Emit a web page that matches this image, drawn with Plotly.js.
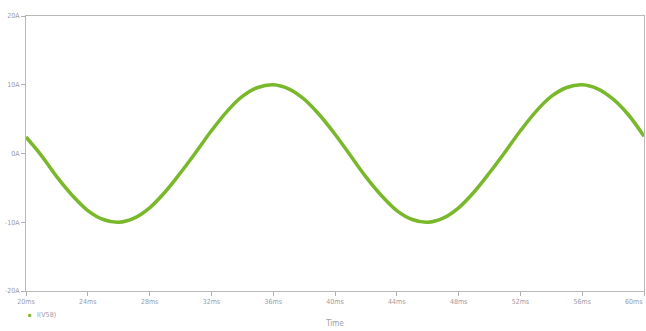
<!DOCTYPE html>
<html>
<head>
<meta charset="utf-8">
<script src="https://cdn.plot.ly/plotly-3.0.1.min.js"></script>
<style>html,body{margin:0;padding:0;background:#fff;}#chart{width:646px;height:331px;}</style>
</head>
<body>
<div id="chart"></div>
<script>
// Time (ms) and current I(V58) (A)
const timeMs = [20,21,22,23,24,25,26,27,28,29,30,31,32,33,34,35,36,37,38,39,40,
                41,42,43,44,45,46,47,48,49,50,51,52,53,54,55,56,57,58,59,60];
const currentA = [2.4,-0.3,-3.4,-6.1,-8.3,-9.6,-10.0,-9.4,-7.9,-5.6,-2.8,
                  0.2,3.3,6.1,8.3,9.6,10.0,9.4,7.9,5.6,2.8,
                  -0.3,-3.4,-6.1,-8.3,-9.6,-10.0,-9.4,-7.9,-5.6,-2.8,
                  0.2,3.3,6.1,8.3,9.6,10.0,9.4,7.9,5.6,2.5];
const xTickVals = [20,24,28,32,36,40,44,48,52,56,60];
const xTickText = ["20ms","24ms","28ms","32ms","36ms","40ms","44ms","48ms","52ms","56ms","60ms"];
const yTickVals = [-20,-10,0,10,20];
const yTickText = ["-20A","-10A","0A","10A","20A"];
const seriesName = "I(V58)";

const green = "#78b82a";
const tickFont = {family: "Liberation Sans Narrow, DejaVu Sans Condensed, sans-serif", size: 7, color: "#9a9aa6"};

// the last label sits against the right edge in the reference: draw it right-aligned as an annotation
const lastIdx = xTickText.length - 1;
const xTickShown = xTickText.map((t, i) => i === lastIdx ? "" : t);

const trace = {
  x: timeMs, y: currentA, type: "scatter", mode: "lines",
  line: {color: green, width: 3.5, shape: "spline"},
  name: seriesName, showlegend: false, hoverinfo: "skip"
};

const layout = {
  width: 646, height: 331,
  margin: {l: 26, r: 2, t: 16, b: 40},
  paper_bgcolor: "#fff", plot_bgcolor: "#fff",
  showlegend: false,
  xaxis: {
    range: [20, 60], tickvals: xTickVals, ticktext: xTickShown,
    ticks: "outside", ticklen: 4, tickcolor: "#b0b0b0", tickfont: tickFont,
    showgrid: false, zeroline: false,
    showline: true, linecolor: "#b8b8b8", linewidth: 1, mirror: true,
    title: {text: "Time", font: {family: tickFont.family, size: 8, color: "#9a9aa6"}, standoff: 14}
  },
  yaxis: {
    range: [-20, 20], tickvals: yTickVals, ticktext: yTickText,
    ticks: "outside", ticklen: 4, tickcolor: "#b0b0b0", tickfont: tickFont,
    ticklabeloverflow: "allow",
    showgrid: false, zeroline: false,
    showline: true, linecolor: "#b8b8b8", linewidth: 1, mirror: true
  },
  annotations: [
    {xref: "x", yref: "paper", x: xTickVals[lastIdx], y: 0, yshift: -11, text: xTickText[lastIdx],
     showarrow: false, font: tickFont, xanchor: "right", yanchor: "middle"},
    {xref: "paper", yref: "paper", x: 0.0065, y: -0.087, text: "■", showarrow: false,
     font: {size: 6, color: green}, xanchor: "center", yanchor: "middle"},
    {xref: "paper", yref: "paper", x: 0.0145, y: -0.087, text: seriesName, showarrow: false,
     font: tickFont, xanchor: "left", yanchor: "middle"}
  ]
};

Plotly.newPlot("chart", [trace], layout, {displayModeBar: false, staticPlot: true});
</script>
</body>
</html>
